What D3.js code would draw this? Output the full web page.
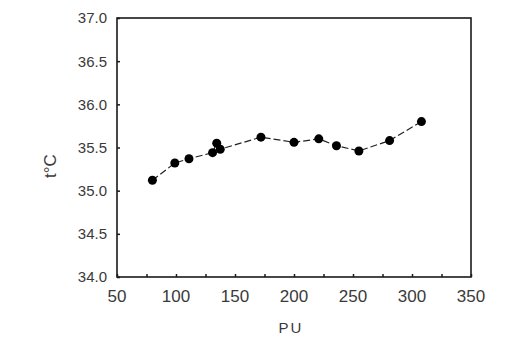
<!DOCTYPE html>
<html>
<head>
<meta charset="utf-8">
<script src="https://cdn.jsdelivr.net/npm/d3@7"></script>
<style>
  body { margin: 0; padding: 0; background: #fff; }
  svg { display: block; }
  text { font-family: "Liberation Sans", Arial, sans-serif; fill: #3a3a3a; }
</style>
</head>
<body>
<div id="chart"></div>
<script>
// data
var pu   = [80, 99, 111, 131, 134.5, 137.5, 172, 200, 221, 236, 255, 281, 308];
var temp = [35.12, 35.32, 35.37, 35.44, 35.55, 35.48, 35.62, 35.56, 35.60, 35.52, 35.46, 35.58, 35.80];
var xTicks = [50, 100, 150, 200, 250, 300, 350];
var xMinor = [75, 125, 175, 225, 275, 325];
var yTicks = [34.0, 34.5, 35.0, 35.5, 36.0, 36.5, 37.0];

var W = 507, H = 351;
var m = {left: 117, right: 36, top: 18, bottom: 74};

var svg = d3.select("#chart").append("svg")
  .attr("width", W).attr("height", H);

var x = d3.scaleLinear().domain([50, 350]).range([m.left, W - m.right]);
var y = d3.scaleLinear().domain([34, 37]).range([H - m.bottom, m.top]);

// frame
svg.append("rect")
  .attr("x", x(50)).attr("y", y(37))
  .attr("width", x(350) - x(50)).attr("height", y(34) - y(37))
  .attr("fill", "none").attr("stroke", "#1a1a1a").attr("stroke-width", 1.6);

// y axis - ticks pointing inward
var yAxis = svg.append("g")
  .attr("transform", "translate(" + x(50) + ",0)")
  .call(d3.axisRight(y).tickValues(yTicks).tickSize(3).tickFormat(""));
yAxis.select(".domain").remove();
yAxis.selectAll("line").attr("stroke", "#1a1a1a").attr("stroke-width", 1.5);

svg.append("g").selectAll("text")
  .data(yTicks).enter().append("text")
  .attr("x", 107).attr("y", function(d) { return y(d); })
  .attr("dy", "0.36em")
  .attr("text-anchor", "end")
  .style("font-size", "15px")
  .text(function(d) { return d3.format(".1f")(d); });

// x axis - ticks pointing up
var xAxis = svg.append("g")
  .attr("transform", "translate(0," + y(34) + ")")
  .call(d3.axisTop(x).tickValues(xTicks.concat(xMinor)).tickSize(3).tickFormat(""));
xAxis.select(".domain").remove();
xAxis.selectAll("line").attr("stroke", "#1a1a1a").attr("stroke-width", 1.5);

svg.append("g").selectAll("text")
  .data(xTicks).enter().append("text")
  .attr("x", function(d) { return x(d); })
  .attr("y", y(34) + 25)
  .attr("text-anchor", "middle")
  .style("font-size", "17px")
  .text(function(d) { return d; });

// axis titles
svg.append("text")
  .attr("x", 291).attr("y", 333)
  .attr("text-anchor", "middle")
  .style("font-size", "15px")
  .style("letter-spacing", "2px")
  .text("PU");

svg.append("text")
  .attr("transform", "translate(56,166) rotate(-90)")
  .attr("text-anchor", "middle")
  .style("font-size", "17px")
  .text("t°C");

// dashed line + dots
var pts = pu.map(function(d, i) { return [d, temp[i]]; });

svg.append("path")
  .datum(pts)
  .attr("fill", "none")
  .attr("stroke", "#222")
  .attr("stroke-width", 1.2)
  .attr("stroke-dasharray", "7,3")
  .attr("d", d3.line().x(function(d) { return x(d[0]); }).y(function(d) { return y(d[1]); }));

svg.append("g").selectAll("circle")
  .data(pts).enter().append("circle")
  .attr("cx", function(d) { return x(d[0]); })
  .attr("cy", function(d) { return y(d[1]); })
  .attr("r", 4.5)
  .attr("fill", "#000");
</script>
</body>
</html>
